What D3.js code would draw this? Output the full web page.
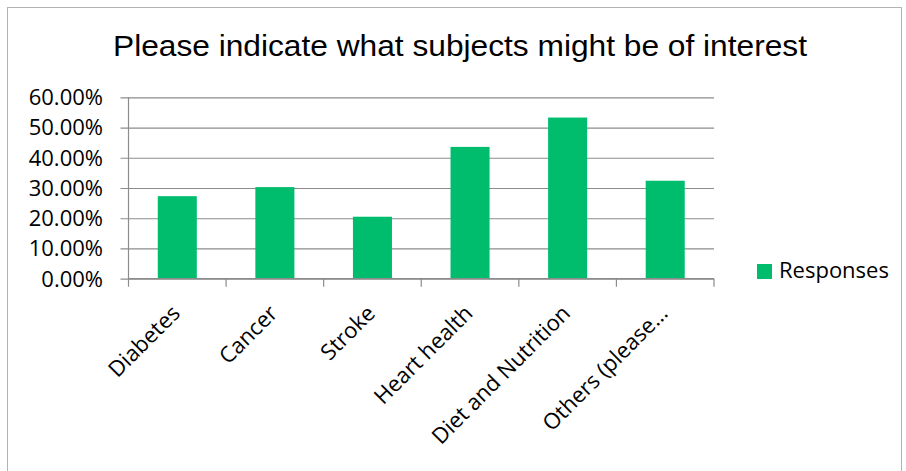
<!DOCTYPE html>
<html>
<head>
<meta charset="utf-8">
<script src="https://cdn.jsdelivr.net/npm/d3@7"></script>
<style>
  body { margin: 0; background: #fff; }
  text { fill: #000; }
</style>
</head>
<body>
<svg width="906" height="471"></svg>
<script>
// data
var categories = ["Diabetes", "Cancer", "Stroke", "Heart health", "Diet and Nutrition", "Others (please..."];
var responses = [0.273, 0.303, 0.205, 0.436, 0.533, 0.324];
var yTicks = [0, 0.1, 0.2, 0.3, 0.4, 0.5, 0.6];
var seriesName = "Responses";
var chartTitle = "Please indicate what subjects might be of interest";

var svg = d3.select("svg"),
  width = +svg.attr("width"),
  height = +svg.attr("height");

var barColor = "#00bd6d",
  gridColor = "#8c8c8c",
  labelFont = "Open Sans, Noto Sans, sans-serif";

// outer frame
svg.append("rect")
  .attr("x", 7.5).attr("y", 7.5)
  .attr("width", width - 12).attr("height", height)
  .attr("fill", "none")
  .attr("stroke", "#b3b3b3");

// title
svg.append("text")
  .attr("x", 113).attr("y", 56)
  .attr("textLength", 694)
  .attr("lengthAdjust", "spacingAndGlyphs")
  .style("font-family", "Liberation Sans, Arial, sans-serif")
  .style("font-size", "29px")
  .text(chartTitle);

var plot = { left: 128.5, right: 714, top: 97.3, bottom: 278.7 };

var x = d3.scaleBand()
  .domain(categories)
  .range([plot.left, plot.right])
  .paddingInner(0.6)
  .paddingOuter(0.3);

var xTick = d3.scaleBand()
  .domain(categories)
  .range([plot.left, plot.right]);

var y = d3.scaleLinear()
  .domain([0, 0.6])
  .range([plot.bottom, plot.top]);

// gridlines
var gy = svg.append("g")
  .attr("transform", "translate(" + (plot.right) + ",0)");
gy.call(d3.axisLeft(y).tickValues(yTicks).tickFormat("").tickSize(plot.right - plot.left + 8))
  .call(function(g) { g.select(".domain").remove(); })
  .selectAll("line")
  .attr("stroke", gridColor)
  .attr("stroke-width", 1.2);

// y labels
svg.append("g").selectAll("text")
  .data(yTicks)
  .join("text")
  .attr("x", 103)
  .attr("y", function(d) { return y(d) + 7.8; })
  .attr("text-anchor", "end")
  .style("font-family", labelFont)
  .style("font-size", "22px")
  .text(d3.format(".2%"));

// vertical axis line
svg.append("line")
  .attr("x1", plot.left).attr("x2", plot.left)
  .attr("y1", plot.top).attr("y2", plot.bottom + 8)
  .attr("stroke", gridColor).attr("stroke-width", 1.2);

// bars
svg.append("g").selectAll("rect")
  .data(responses)
  .join("rect")
  .attr("x", function(d, i) { return x(categories[i]); })
  .attr("y", function(d) { return y(d); })
  .attr("width", x.bandwidth())
  .attr("height", function(d) { return y(0) - y(d); })
  .attr("fill", barColor);

// x axis with category ticks
var gx = svg.append("g")
  .attr("transform", "translate(0," + plot.bottom + ")");
gx.append("line")
  .attr("x1", plot.left).attr("x2", plot.right)
  .attr("stroke", gridColor).attr("stroke-width", 1.2);
gx.selectAll(".tk")
  .data(categories)
  .join("line")
  .attr("class", "tk")
  .attr("x1", function(d) { return xTick(d) + xTick.bandwidth(); })
  .attr("x2", function(d) { return xTick(d) + xTick.bandwidth(); })
  .attr("y1", 0).attr("y2", 8)
  .attr("stroke", gridColor).attr("stroke-width", 1.2);

gx.selectAll(".lbl")
  .data(categories)
  .join("text")
  .attr("class", "lbl")
  .attr("text-anchor", "end")
  .attr("transform", function(d) {
    return "translate(" + (xTick(d) + xTick.bandwidth() / 2 + 4) + ",36) rotate(-45)";
  })
  .style("font-family", labelFont)
  .style("font-size", "22px")
  .text(function(d) { return d; });

// legend
svg.append("rect")
  .attr("x", 757).attr("y", 264)
  .attr("width", 15).attr("height", 15)
  .attr("fill", barColor);
svg.append("text")
  .attr("x", 779).attr("y", 278)
  .style("font-family", labelFont)
  .style("font-size", "22px")
  .text(seriesName);
</script>
</body>
</html>
